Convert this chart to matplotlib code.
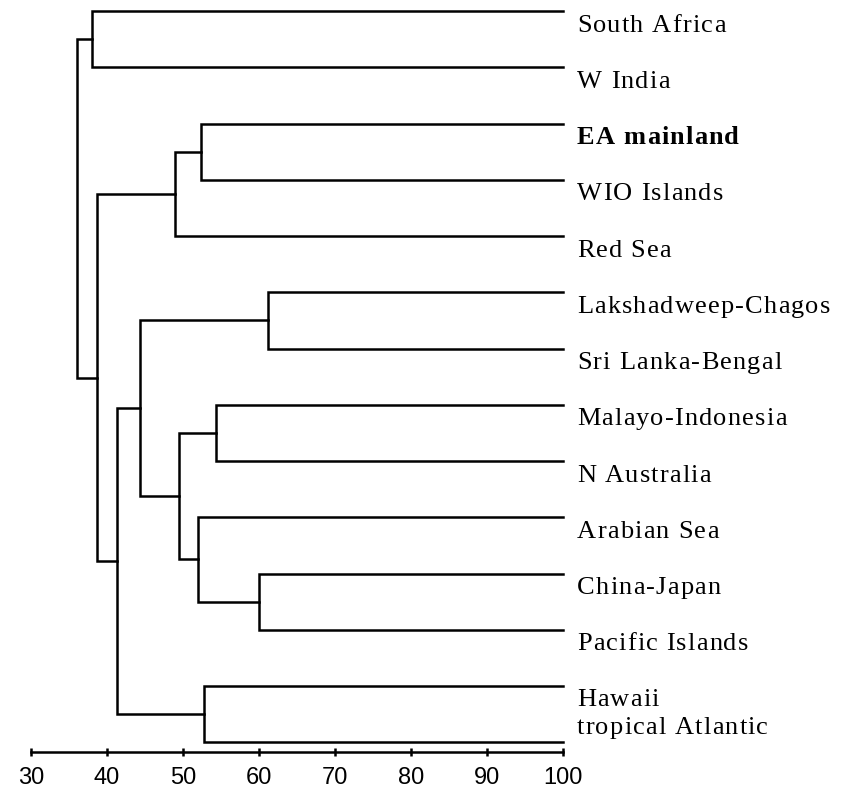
import matplotlib
matplotlib.use("Agg")
import matplotlib.pyplot as plt
from matplotlib.font_manager import FontProperties, findfont, get_font

# ---------------- data ----------------
leaves = ["South Africa", "W India", "EA mainland", "WIO Islands", "Red Sea",
          "Lakshadweep-Chagos", "Sri Lanka-Bengal", "Malayo-Indonesia",
          "N Australia", "Arabian Sea", "China-Japan", "Pacific Islands",
          "Hawaii", "tropical Atlantic"]
bold_leaves = ["EA mainland"]
# merges (scipy-like numbering: new clusters are 14, 15, ...)
merge_a = [0, 2, 15, 5, 7, 10, 9, 18, 17, 12, 22, 16, 14]
merge_b = [1, 3, 4, 6, 8, 11, 19, 20, 21, 13, 23, 24, 25]
merge_h = [38.0, 52.4, 49.0, 61.2, 54.4, 60.0, 52.0, 49.5, 44.4, 52.7, 41.3, 38.7, 36.0]
leaf_level = 100
xticks = [30, 40, 50, 60, 70, 80, 90, 100]

# ---------------- layout ----------------
W, H, DPI = 847, 791, 100
fig = plt.figure(figsize=(W / DPI, H / DPI), dpi=DPI)
x_left_px, x_right_px = 31, 563
axis_y_px = 752
leaf0_px, leaf_step_px = 11, 56.25
ax = fig.add_axes([x_left_px / W, (H - axis_y_px) / H,
                   (x_right_px - x_left_px) / W, axis_y_px / H])
ax.set_xlim(30, 100)
ax.set_ylim((axis_y_px - leaf0_px) / leaf_step_px, -leaf0_px / leaf_step_px)

LW = 1.8
n = len(leaves)
node_x = {i: leaf_level for i in range(n)}
node_y = {i: float(i) for i in range(n)}
for k, (a, b, h) in enumerate(zip(merge_a, merge_b, merge_h)):
    idx = n + k
    ax.plot([node_x[a], h, h, node_x[b]], [node_y[a], node_y[a], node_y[b], node_y[b]],
            color="black", lw=LW, solid_joinstyle="miter", clip_on=False)
    node_x[idx] = h
    node_y[idx] = (node_y[a] + node_y[b]) / 2

# axis
for s in ["top", "right", "left"]:
    ax.spines[s].set_visible(False)
ax.spines["bottom"].set_linewidth(LW)
ax.set_yticks([])
ax.set_xticks(xticks)
ax.set_xticklabels([str(t) for t in xticks], family=["Liberation Sans", "DejaVu Sans"],
                   fontsize=17)
ax.tick_params(axis="x", direction="inout", length=6, width=LW, pad=8, colors="black")

# letter-spaced leaf labels
FS = 19
SP_PT = 0.85
X0_PT = 10.0
def spaced_label(text, y, weight, dy_pt):
    fp = FontProperties(family="Liberation Serif", weight=weight, size=FS)
    font = get_font(findfont(fp))
    font.set_size(FS, 72)
    x = X0_PT
    for ch in text:
        ax.annotate(ch, xy=(leaf_level, y), xytext=(x, dy_pt), textcoords="offset points",
                    fontproperties=fp, ha="left", va="baseline", annotation_clip=False)
        g = font.load_char(ord(ch))
        x += g.linearHoriAdvance / 65536 + SP_PT

for i, name in enumerate(leaves):
    w = "bold" if name in bold_leaves else "normal"
    dy = -20.5 * 72 / DPI if i < n - 1 else 8 * 72 / DPI
    spaced_label(name, i, w, dy)

fig.savefig("out.png", dpi=DPI)
